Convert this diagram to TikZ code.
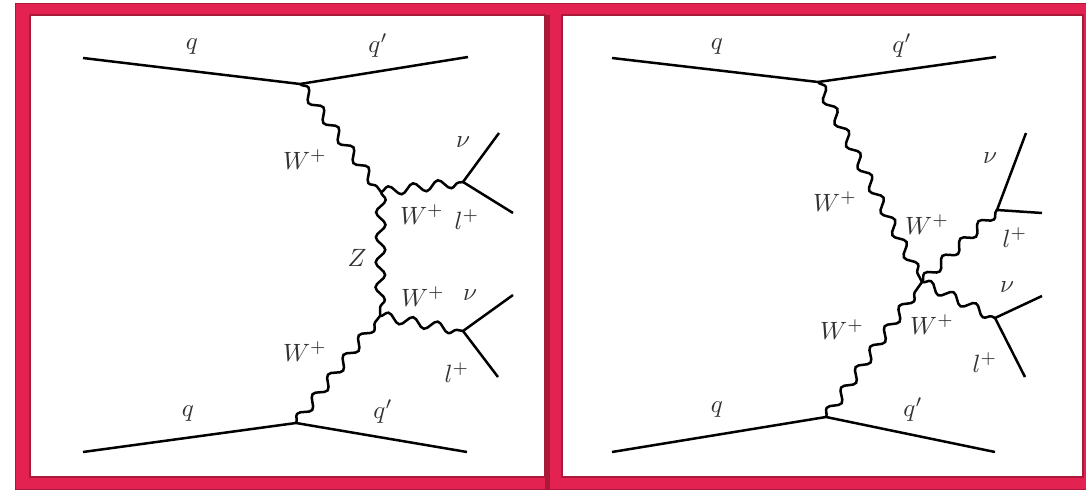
\documentclass[tikz,border=0pt]{standalone}
\usetikzlibrary{decorations.pathmorphing}
\definecolor{frame}{RGB}{228,34,82}
\definecolor{framedark}{RGB}{170,24,58}
\definecolor{lbl}{RGB}{50,50,50}
\begin{document}
\begin{tikzpicture}[x=0.4pt,y=-0.4pt,
  fermion/.style={line width=1pt,black},
  boson/.style={line width=1pt,black,decorate,decoration={snake,amplitude=1.9pt,segment length=10pt}},
  lab/.style={text=lbl,inner sep=0pt,font=\normalsize}]
\useasboundingbox (0,0) rectangle (1086,492);
% frames
\fill[frame] (15,3) rectangle (1086,490);
\draw[framedark,line width=0.5pt] (15.5,3.5) rectangle (1090,489.5);
\fill[framedark] (545,15) rectangle (550,490);
\fill[white] (30,15) rectangle (545,477);
\fill[white] (562,15) rectangle (1083,477);
\draw[framedark,line width=0.6pt] (30,15) rectangle (545,477);
\draw[framedark,line width=0.6pt] (562,15) rectangle (1083,477);

% ---------- left diagram ----------
\coordinate (a1) at (83,58);
\coordinate (v1) at (300,84);
\coordinate (b1) at (468,57);
\coordinate (v2) at (381,192);
\coordinate (v3) at (463,182);
\coordinate (n1) at (499,133);
\coordinate (l1) at (513,213);
\coordinate (v4) at (380,316);
\coordinate (v5) at (463,331);
\coordinate (n2) at (513,295);
\coordinate (l2) at (498,377);
\coordinate (v6) at (296,423);
\coordinate (a2) at (83,452);
\coordinate (b2) at (467,452);

\draw[fermion] (a1) -- (v1) -- (b1);
\draw[fermion] (a2) -- (v6) -- (b2);
\draw[boson] (v1) -- (v2);
\draw[boson] (v2) -- (v3);
\draw[boson] (v2) -- (v4);
\draw[boson] (v4) -- (v5);
\draw[boson] (v6) -- (v4);
\draw[fermion] (n1) -- (v3) -- (l1);
\draw[fermion] (n2) -- (v5) -- (l2);

\node[lab] (Lq1) at (192,47) {$q$};
\node[lab] (Lqp1) at (378,46) {$q'$};
\node[lab] (Lw1) at (305,160) {$W^+$};
\node[lab] (Lnu1) at (463,142) {$\nu$};
\node[lab] (Lw2) at (422,215) {$W^+$};
\node[lab] (Ll1) at (467,220) {$l^+$};
\node[lab] (Lz) at (357,258) {$Z$};
\node[lab] (Lw3) at (423,297) {$W^+$};
\node[lab] (Lnu2) at (470,295) {$\nu$};
\node[lab] (Lw4) at (305,352) {$W^+$};
\node[lab] (Ll2) at (457,373) {$l^+$};
\node[lab] (Lq2) at (188,414) {$q$};
\node[lab] (Lqp2) at (383,412) {$q'$};

% ---------- right diagram ----------
\coordinate (c1) at (612,58);
\coordinate (w1) at (818,82);
\coordinate (d1) at (996,57);
\coordinate (cc) at (922,282);
\coordinate (w3) at (997,210);
\coordinate (n3) at (1026,133);
\coordinate (l3) at (1042,213);
\coordinate (w5) at (995,318);
\coordinate (n4) at (1042,296);
\coordinate (l4) at (1025,377);
\coordinate (w6) at (826,417);
\coordinate (c2) at (612,452);
\coordinate (d2) at (995,452);

\draw[fermion] (c1) -- (w1) -- (d1);
\draw[fermion] (c2) -- (w6) -- (d2);
\draw[boson] (w1) -- (cc);
\draw[boson] (cc) -- (w3);
\draw[boson] (cc) -- (w5);
\draw[boson] (w6) -- (cc);
\draw[fermion] (n3) -- (w3) -- (l3);
\draw[fermion] (n4) -- (w5) -- (l4);

\node[lab] (Rq1) at (717,47) {$q$};
\node[lab] (Rqp1) at (902,46) {$q'$};
\node[lab] (Rw1) at (835,202) {$W^+$};
\node[lab] (Rnu1) at (990,158) {$\nu$};
\node[lab] (Rw2) at (927,225) {$W^+$};
\node[lab] (Rl1) at (1015,238) {$l^+$};
\node[lab] (Rnu2) at (1007,287) {$\nu$};
\node[lab] (Rw3) at (932,325) {$W^+$};
\node[lab] (Rw4) at (842,330) {$W^+$};
\node[lab] (Rl2) at (985,363) {$l^+$};
\node[lab] (Rq2) at (717,410) {$q$};
\node[lab] (Rqp2) at (913,410) {$q'$};
\end{tikzpicture}
\end{document}
